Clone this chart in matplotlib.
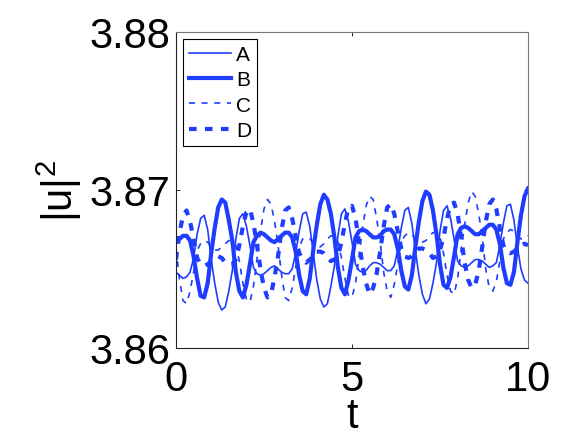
import numpy as np
import matplotlib
matplotlib.use('Agg')
import matplotlib.pyplot as plt

# sample times (0 .. 10, step 0.1)
t = np.linspace(0, 10, 101)

# |u|^2, one value per sample
u_a = [3.8648, 3.8646, 3.8644, 3.8645, 3.8648, 3.8657, 3.8672, 3.8682, 3.8684, 3.8675,
       3.8656, 3.8641, 3.8629, 3.8624, 3.8626, 3.8636, 3.8649, 3.8669, 3.8682, 3.8685,
       3.8677, 3.8665, 3.8651, 3.8647, 3.8646, 3.8647, 3.8649, 3.8651, 3.8652, 3.8650,
       3.8648, 3.8647, 3.8647, 3.8650, 3.8660, 3.8674, 3.8685, 3.8686, 3.8677, 3.8660,
       3.8643, 3.8631, 3.8626, 3.8628, 3.8639, 3.8652, 3.8671, 3.8685, 3.8688, 3.8680,
       3.8667, 3.8653, 3.8649, 3.8648, 3.8649, 3.8652, 3.8654, 3.8654, 3.8653, 3.8651,
       3.8649, 3.8649, 3.8652, 3.8662, 3.8676, 3.8687, 3.8689, 3.8679, 3.8662, 3.8646,
       3.8634, 3.8628, 3.8631, 3.8641, 3.8654, 3.8674, 3.8687, 3.8690, 3.8682, 3.8669,
       3.8655, 3.8652, 3.8651, 3.8652, 3.8654, 3.8656, 3.8656, 3.8655, 3.8653, 3.8651,
       3.8652, 3.8654, 3.8665, 3.8679, 3.8690, 3.8691, 3.8681, 3.8664, 3.8650, 3.8643,
       3.8641]

u_b = [3.8667, 3.8669, 3.8671, 3.8671, 3.8668, 3.8658, 3.8644, 3.8633, 3.8632, 3.8641,
       3.8660, 3.8676, 3.8689, 3.8694, 3.8692, 3.8681, 3.8668, 3.8648, 3.8636, 3.8632,
       3.8640, 3.8653, 3.8667, 3.8671, 3.8673, 3.8672, 3.8670, 3.8668, 3.8667, 3.8669,
       3.8671, 3.8673, 3.8673, 3.8670, 3.8661, 3.8646, 3.8636, 3.8634, 3.8644, 3.8662,
       3.8678, 3.8691, 3.8697, 3.8694, 3.8685, 3.8670, 3.8651, 3.8638, 3.8634, 3.8643,
       3.8656, 3.8670, 3.8674, 3.8675, 3.8674, 3.8672, 3.8670, 3.8670, 3.8671, 3.8674,
       3.8675, 3.8675, 3.8672, 3.8663, 3.8649, 3.8639, 3.8637, 3.8646, 3.8664, 3.8680,
       3.8693, 3.8699, 3.8697, 3.8687, 3.8672, 3.8653, 3.8640, 3.8638, 3.8645, 3.8658,
       3.8672, 3.8676, 3.8677, 3.8676, 3.8674, 3.8672, 3.8672, 3.8674, 3.8676, 3.8678,
       3.8678, 3.8675, 3.8666, 3.8651, 3.8641, 3.8640, 3.8648, 3.8667, 3.8684, 3.8696,
       3.8701]

u_c = [3.8663, 3.8643, 3.8630, 3.8628, 3.8636, 3.8648, 3.8662, 3.8666, 3.8668, 3.8667,
       3.8664, 3.8662, 3.8662, 3.8664, 3.8666, 3.8668, 3.8668, 3.8665, 3.8655, 3.8641,
       3.8631, 3.8629, 3.8639, 3.8656, 3.8674, 3.8688, 3.8694, 3.8691, 3.8680, 3.8665,
       3.8646, 3.8632, 3.8630, 3.8638, 3.8651, 3.8664, 3.8669, 3.8670, 3.8669, 3.8667,
       3.8665, 3.8664, 3.8666, 3.8669, 3.8671, 3.8671, 3.8667, 3.8657, 3.8644, 3.8633,
       3.8632, 3.8641, 3.8658, 3.8676, 3.8690, 3.8696, 3.8694, 3.8682, 3.8667, 3.8648,
       3.8636, 3.8632, 3.8640, 3.8653, 3.8667, 3.8671, 3.8673, 3.8672, 3.8669, 3.8667,
       3.8667, 3.8668, 3.8671, 3.8673, 3.8673, 3.8670, 3.8660, 3.8646, 3.8636, 3.8634,
       3.8644, 3.8662, 3.8678, 3.8692, 3.8699, 3.8696, 3.8685, 3.8670, 3.8650, 3.8638,
       3.8636, 3.8642, 3.8655, 3.8669, 3.8673, 3.8675, 3.8674, 3.8671, 3.8669, 3.8669,
       3.8671]

u_d = [3.8656, 3.8673, 3.8684, 3.8687, 3.8680, 3.8669, 3.8657, 3.8653, 3.8652, 3.8653,
       3.8655, 3.8657, 3.8658, 3.8657, 3.8654, 3.8653, 3.8653, 3.8656, 3.8665, 3.8677,
       3.8686, 3.8688, 3.8679, 3.8665, 3.8650, 3.8638, 3.8632, 3.8634, 3.8645, 3.8658,
       3.8675, 3.8687, 3.8689, 3.8682, 3.8671, 3.8660, 3.8656, 3.8654, 3.8656, 3.8658,
       3.8661, 3.8661, 3.8660, 3.8657, 3.8655, 3.8656, 3.8658, 3.8667, 3.8679, 3.8689,
       3.8690, 3.8682, 3.8667, 3.8652, 3.8641, 3.8634, 3.8638, 3.8647, 3.8661, 3.8677,
       3.8689, 3.8691, 3.8685, 3.8674, 3.8663, 3.8658, 3.8657, 3.8658, 3.8661, 3.8663,
       3.8663, 3.8662, 3.8660, 3.8657, 3.8658, 3.8662, 3.8670, 3.8682, 3.8691, 3.8692,
       3.8685, 3.8670, 3.8654, 3.8643, 3.8638, 3.8640, 3.8649, 3.8664, 3.8680, 3.8691,
       3.8694, 3.8688, 3.8676, 3.8665, 3.8661, 3.8660, 3.8661, 3.8663, 3.8665, 3.8666,
       3.8665]

labels = ['A', 'B', 'C', 'D']
xticks = [0, 5, 10]
yticks = [3.86, 3.87, 3.88]

plt.rcParams['font.family'] = 'Liberation Sans'
plt.rcParams['lines.scale_dashes'] = False

fig = plt.figure(figsize=(5.84, 4.39), dpi=100)
ax = fig.add_axes([176 / 584, 1 - 349 / 439, 352 / 584, 316 / 439])

blue = '#1f3dff'
ax.plot(t, u_a, color=blue, lw=1.2, label=labels[0])
ax.plot(t, u_b, color=blue, lw=3.0, label=labels[1])
ax.plot(t, u_c, color=blue, lw=1.2, ls=(0, (4.3, 4.8)), label=labels[2])
ax.plot(t, u_d, color=blue, lw=3.0, ls=(0, (5.5, 6.0)), label=labels[3])

ax.set_xlim(0, 10)
ax.set_ylim(3.86, 3.88)
ax.set_xticks(xticks)
ax.set_xticklabels([str(x) for x in xticks])
ax.set_yticks(yticks)
ax.set_yticklabels(['%.2f' % y for y in yticks])
ax.tick_params(direction='in', length=3, width=0.6, top=True, right=True, labelsize=30)
ax.tick_params(axis='x', pad=8)
ax.tick_params(axis='y', pad=4)

ax.set_xlabel('t', fontsize=30, labelpad=-2)
ax.set_ylabel(r'$\mathregular{|u|^2}$', fontsize=30, labelpad=4)

for side in ['left', 'bottom']:
    ax.spines[side].set_color('#222222')
    ax.spines[side].set_linewidth(0.8)
for side in ['top', 'right']:
    ax.spines[side].set_color('#777777')
    ax.spines[side].set_linewidth(0.8)

leg = ax.legend(loc='upper left', bbox_to_anchor=(0.019, 0.978), borderaxespad=0,
                fontsize=15, fancybox=False, framealpha=1, edgecolor='black',
                handlelength=2.0, handletextpad=0.25, labelspacing=0.3, borderpad=0.3)
leg.get_frame().set_linewidth(0.8)

fig.savefig('out.png', dpi=100)
